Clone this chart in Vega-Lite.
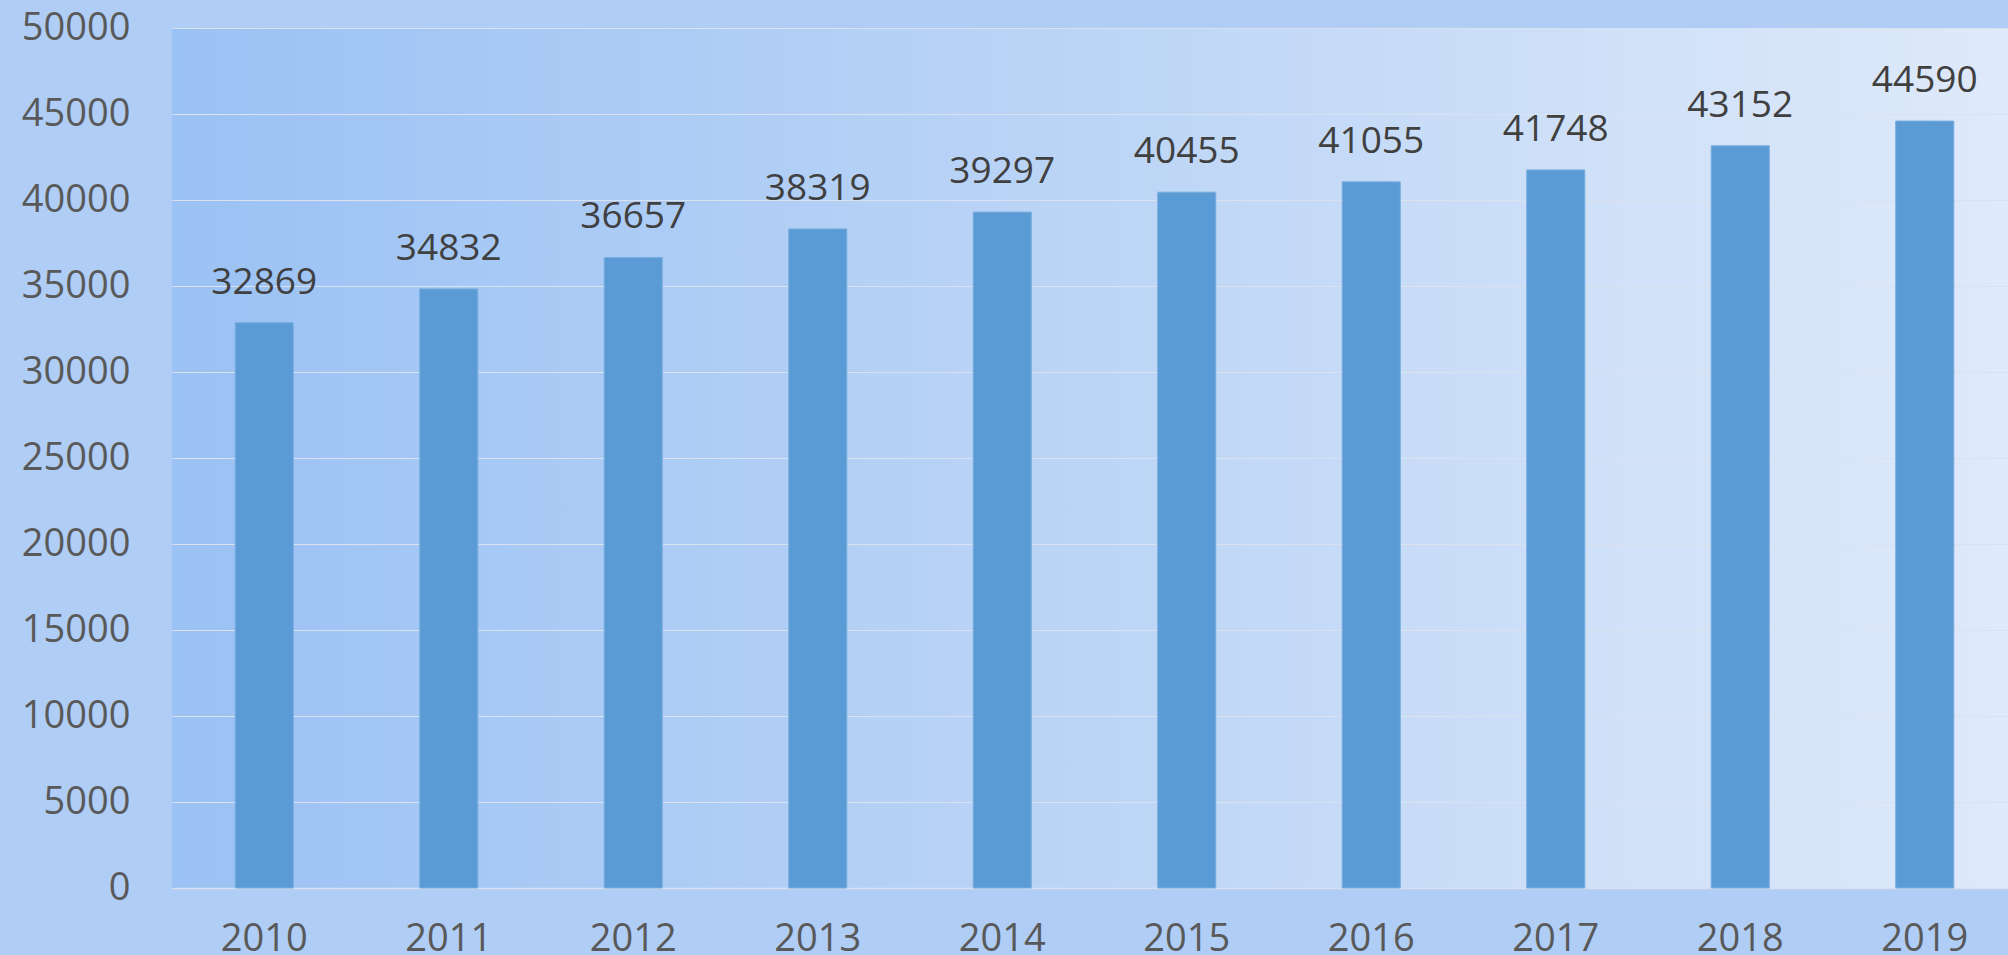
{
  "$schema": "https://vega.github.io/schema/vega-lite/v6.json",
  "width": 1845,
  "height": 860,
  "autosize": {"type": "none"},
  "padding": {"left": 172, "top": 28, "right": 0, "bottom": 67},
  "background": "#b0cdf5",
  "config": {
    "view": {
      "stroke": null,
      "fill": {
        "gradient": "linear",
        "x1": 0, "y1": 0, "x2": 1, "y2": 0,
        "stops": [
          {"offset": 0, "color": "#9bc2f4"},
          {"offset": 0.5, "color": "#bcd5f6"},
          {"offset": 1, "color": "#dfeafa"}
        ]
      }
    },
    "font": "Open Sans"
  },
  "data": {
    "values": [
      {"year": "2010", "value": 32869},
      {"year": "2011", "value": 34832},
      {"year": "2012", "value": 36657},
      {"year": "2013", "value": 38319},
      {"year": "2014", "value": 39297},
      {"year": "2015", "value": 40455},
      {"year": "2016", "value": 41055},
      {"year": "2017", "value": 41748},
      {"year": "2018", "value": 43152},
      {"year": "2019", "value": 44590}
    ]
  },
  "encoding": {
    "x": {
      "field": "year",
      "type": "ordinal",
      "scale": {"paddingInner": 0.685, "paddingOuter": 0.3425},
      "axis": {
        "title": null,
        "labelAngle": 0,
        "labelFont": "Open Sans",
        "labelFontSize": 38,
        "labelColor": "#595959",
        "labelPadding": 32,
        "ticks": false,
        "domainColor": "#d6dfeb",
        "domainWidth": 1.5
      }
    },
    "y": {
      "field": "value",
      "type": "quantitative",
      "scale": {"domain": [0, 50000]},
      "axis": {
        "title": null,
        "values": [0, 5000, 10000, 15000, 20000, 25000, 30000, 35000, 40000, 45000, 50000],
        "format": "d",
        "labelFont": "Open Sans",
        "labelFontSize": 38,
        "labelColor": "#595959",
        "labelPadding": 42,
        "ticks": false,
        "domain": false,
        "gridColor": "#d9e2ee",
        "gridWidth": 1
      }
    }
  },
  "layer": [
    {
      "mark": {"type": "bar", "color": "#5b9bd5", "stroke": "#7aaee0", "strokeWidth": 1}
    },
    {
      "mark": {
        "type": "text",
        "baseline": "alphabetic",
        "dy": -29,
        "font": "Open Sans",
        "fontSize": 37,
        "color": "#404040"
      },
      "encoding": {"text": {"field": "value", "type": "quantitative", "format": "d"}}
    }
  ]
}
